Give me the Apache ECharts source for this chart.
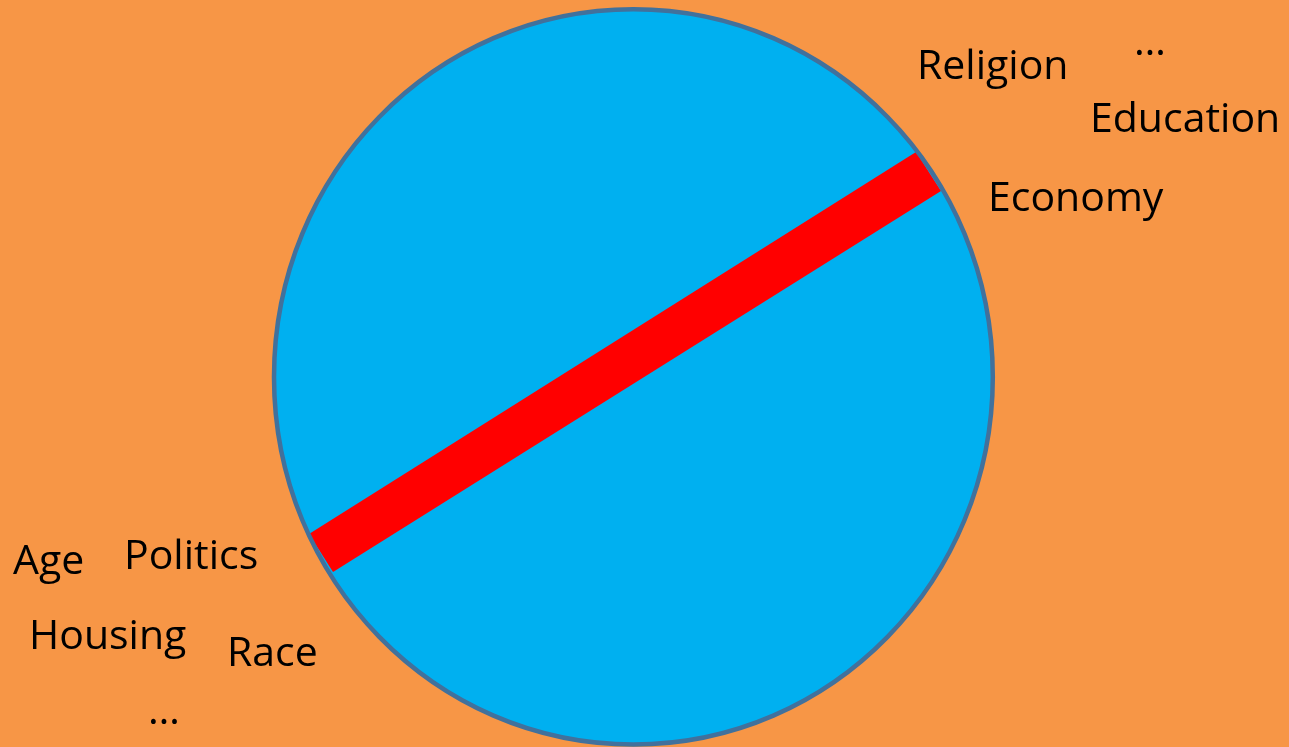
<!DOCTYPE html>
<html>
<head>
<meta charset="utf-8">
<title>Circle diagram</title>
<script src="https://cdn.jsdelivr.net/npm/echarts@6/dist/echarts.min.js"></script>
<style>
  html, body { margin: 0; padding: 0; background: #F79646; }
  #chart { width: 1289px; height: 747px; }
</style>
</head>
<body>
<div id="chart"></div>
<script>
// circle: centre x, centre y, radius x, radius y (page units)
const circle = [633.4, 376.9, 359.4, 367.6];

// red band, four corners
const bandCorners = [[309, 534], [916, 152], [941, 191], [333, 572]];

// labels: text, left x, baseline y
const labelNames = ['Religion', '\u2026', 'Education', 'Economy', 'Age', 'Politics', 'Housing', 'Race', '\u2026'];
const labelX = [917, 1134, 1090, 988, 13, 124, 29, 227, 148];
const labelBase = [80, 56, 133, 212, 575, 570, 650, 667, 725];

const FONT_SIZE = 41;

const chart = echarts.init(document.getElementById('chart'));

const option = {
    backgroundColor: '#F79646',
    animation: false,
    grid: { left: 0, right: 0, top: 0, bottom: 0 },
    xAxis: { type: 'value', min: 0, max: 1289, show: false },
    yAxis: { type: 'value', min: 0, max: 747, inverse: true, show: false },
    series: [
        // circle fill
        {
            type: 'custom',
            z: 1,
            data: [circle],
            renderItem(params, api) {
                const c = api.coord([api.value(0), api.value(1)]);
                const s = api.size([api.value(2), api.value(3)]);
                return {
                    type: 'ellipse',
                    shape: { cx: c[0], cy: c[1], rx: s[0], ry: s[1] },
                    style: { fill: '#00B0F0', stroke: null }
                };
            }
        },
        // red band
        {
            type: 'custom',
            z: 2,
            data: [[0]],
            renderItem(params, api) {
                const pts = bandCorners.map(p => api.coord(p));
                return {
                    type: 'polygon',
                    shape: { points: pts },
                    style: { fill: '#FF0000', stroke: null }
                };
            }
        },
        // circle outline on top
        {
            type: 'custom',
            z: 3,
            data: [circle],
            renderItem(params, api) {
                const c = api.coord([api.value(0), api.value(1)]);
                const s = api.size([api.value(2), api.value(3)]);
                return {
                    type: 'ellipse',
                    shape: { cx: c[0], cy: c[1], rx: s[0], ry: s[1] },
                    style: { fill: null, stroke: '#41719C', lineWidth: 4.5 }
                };
            }
        },
        // text labels
        {
            type: 'custom',
            z: 4,
            data: labelNames.map((n, i) => [labelX[i], labelBase[i], i]),
            renderItem(params, api) {
                const p = api.coord([api.value(0), api.value(1)]);
                return {
                    type: 'text',
                    x: p[0],
                    y: p[1] - FONT_SIZE * 0.32,
                    style: {
                        text: labelNames[api.value(2)],
                        fill: '#000000',
                        font: FONT_SIZE + 'px "Open Sans", sans-serif',
                        align: 'left',
                        verticalAlign: 'middle'
                    }
                };
            }
        }
    ]
};

chart.setOption(option);
</script>
</body>
</html>
